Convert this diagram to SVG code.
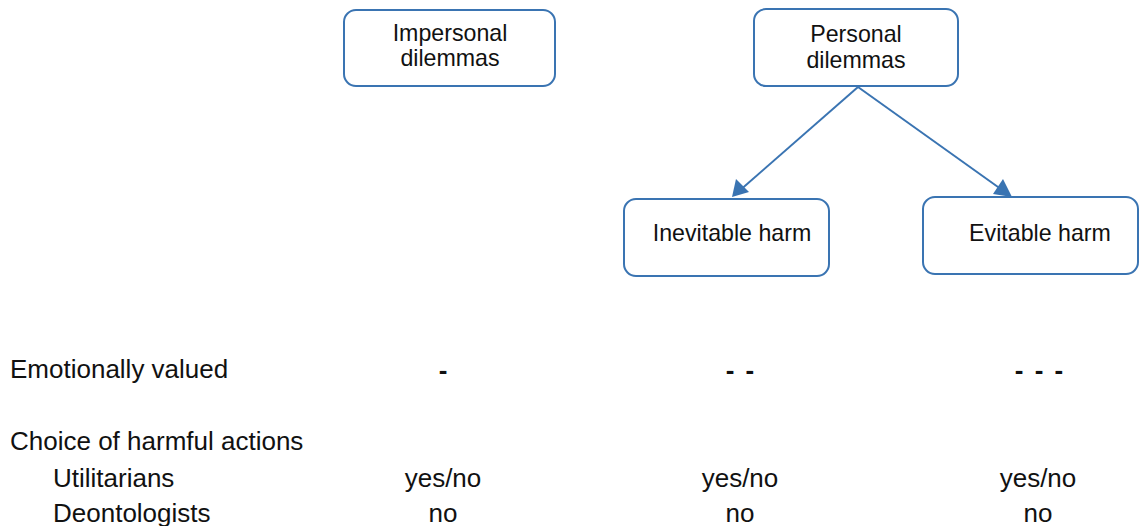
<svg xmlns="http://www.w3.org/2000/svg" width="1140" height="526" viewBox="0 0 1140 526">
<defs>
<style>
.box{fill:#fff;stroke:#3A74B2;stroke-width:2}
.t{font-family:"Liberation Sans",Arial,sans-serif;fill:#111}
.bt{font-size:23.2px;text-anchor:middle}
.lt{font-size:26px}
.ct{font-size:26px;text-anchor:middle}
.dash{font-weight:bold;word-spacing:4px}
.edge{stroke:#3A74B2;stroke-width:2;fill:none}
.head{fill:#3A74B2}
</style>
</defs>
<rect width="1140" height="526" fill="#fff"/>
<g id="connectors">
<line class="edge" x1="858" y1="87" x2="738" y2="192"/>
<line class="edge" x1="858" y1="87" x2="1005" y2="192"/>
<path class="head" d="M732,197 L736,179 L749,192 z"/>
<path class="head" d="M1012,197 L993,194 L1003,179 z"/>
</g>
<g id="impersonal">
<rect class="box" x="344" y="10" width="211" height="76" rx="12"/>
<text class="t bt" x="450" y="41">Impersonal</text>
<text class="t bt" x="450" y="66">dilemmas</text>
</g>
<g id="personal">
<rect class="box" x="754" y="9" width="204" height="77" rx="12"/>
<text class="t bt" x="856" y="42">Personal</text>
<text class="t bt" x="856" y="68">dilemmas</text>
</g>
<g id="inevitable">
<rect class="box" x="624" y="199" width="205" height="77" rx="12"/>
<text class="t bt" x="732" y="241">Inevitable harm</text>
</g>
<g id="evitable">
<rect class="box" x="923" y="197" width="215" height="77" rx="12"/>
<text class="t bt" x="1040" y="241">Evitable harm</text>
</g>
<g id="table">
<text class="t lt" x="10" y="378">Emotionally valued</text>
<text class="t lt" x="10" y="450">Choice of harmful actions</text>
<text class="t lt" x="53" y="487">Utilitarians</text>
<text class="t lt" x="53" y="522">Deontologists</text>
<text class="t ct dash" x="443" y="379">-</text>
<text class="t ct dash" x="740" y="379">- -</text>
<text class="t ct dash" x="1039" y="379">- - -</text>
<text class="t ct" x="443" y="487">yes/no</text>
<text class="t ct" x="740" y="487">yes/no</text>
<text class="t ct" x="1038" y="487">yes/no</text>
<text class="t ct" x="443" y="522">no</text>
<text class="t ct" x="740" y="522">no</text>
<text class="t ct" x="1038" y="522">no</text>
</g>
</svg>
